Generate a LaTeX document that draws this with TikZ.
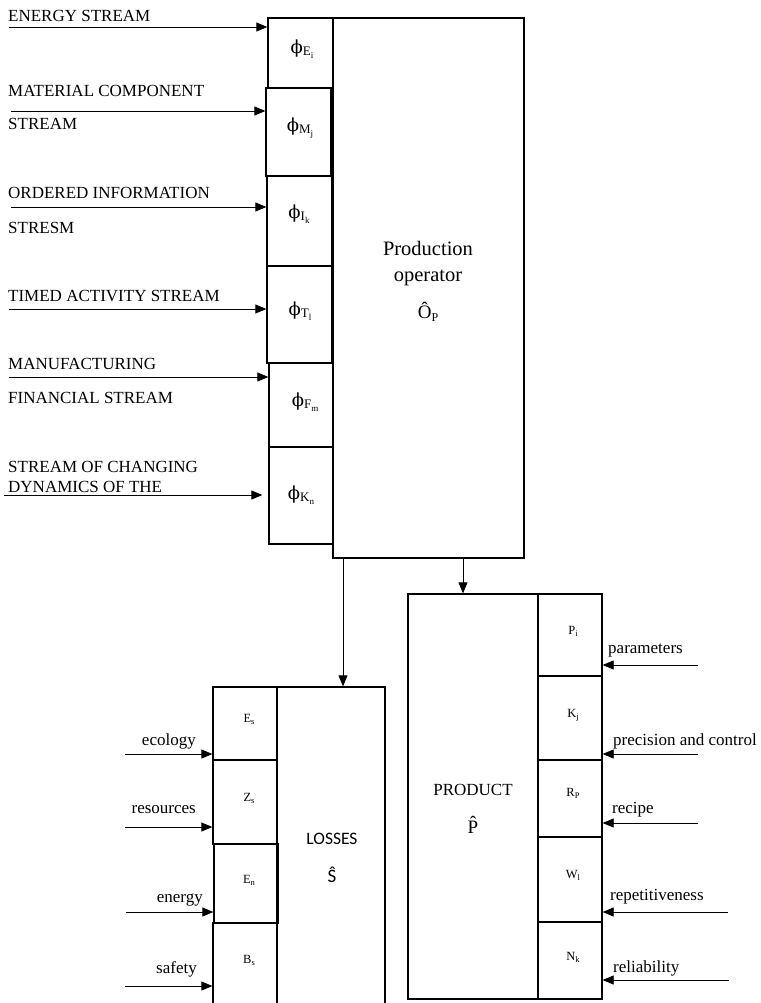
\documentclass[tikz,border=0pt]{standalone}
\usepackage{fontspec}
\setmainfont{Liberation Serif}
\newfontfamily\calib{Carlito}
\newfontfamily\phifont{DejaVu Serif}
\usetikzlibrary{arrows.meta,calc}
\newcommand\sbx[1]{\raisebox{-0.35ex}{\fontsize{8.5}{10}\selectfont #1}}
\newcommand\phil[2]{{\phifont\fontsize{18}{21}\selectfont ϕ}\raisebox{-0.5ex}{\fontsize{13}{15}\selectfont #1\raisebox{-0.35ex}{\fontsize{9}{10}\selectfont #2}}}
\newcommand\smal[2]{{\fontsize{12.5}{14}\selectfont #1\sbx{#2}}}
\begin{document}
\begin{tikzpicture}[x=1pt,y=-1pt,
  box/.style={draw,line width=1.3pt,inner sep=0pt,minimum width=#1},
  box/.default=65pt,
  arr/.style={line width=0.8pt,-{Triangle[length=11pt,width=9pt]}},
  lab/.style={inner sep=0pt,anchor=base west,font=\fontsize{17}{20}\selectfont},
  labr/.style={inner sep=0pt,anchor=base east,font=\fontsize{17}{20}\selectfont},
  ctr/.style={inner sep=0pt,anchor=base,font=\fontsize{17}{20}\selectfont},
  tiny/.style={inner sep=0pt,anchor=center}]
\useasboundingbox (0,0) rectangle (760,1003);
% production operator
\node[box=191pt,minimum height=540pt] (prod) at (428.5,288) {};
\node[ctr,font=\fontsize{20.5}{24}\selectfont] (prodt1) at (428,255) {Production};
\node[ctr,font=\fontsize{20.5}{24}\selectfont] (prodt2) at (428,281) {operator};
\node[ctr,font=\fontsize{19}{22}\selectfont] (prodt3) at (428,318) {Ô\raisebox{-0.4ex}{\fontsize{12}{14}\selectfont P}};
% phi boxes
\node[box,minimum height=70pt] (pE) at (300.5,53) {};
\node[box,minimum height=88pt] (pM) at (298.5,132) {};
\node[box,minimum height=90pt] (pI) at (299.5,221) {};
\node[box,minimum height=97pt] (pT) at (299.5,314.5) {};
\node[box=64pt,minimum height=84pt] (pF) at (301,405) {};
\node[box=64pt,minimum height=97pt] (pK) at (301,495.5) {};
\node[tiny] (lE) at (302,49) {\phil{E}{i}};
\node[tiny] (lM) at (300,128) {\phil{M}{j}};
\node[tiny] (lI) at (299,214) {\phil{I}{k}};
\node[tiny] (lT) at (300,311) {\phil{T}{l}};
\node[tiny] (lF) at (305,402) {\phil{F}{m}};
\node[tiny] (lK) at (301,495) {\phil{K}{n}};
% input labels
\node[lab] (tE) at (8,22) {ENERGY STREAM};
\node[lab] (tM1) at (8,97) {MATERIAL COMPONENT};
\node[lab] (tM2) at (8,130) {STREAM};
\node[lab] (tI1) at (8,198) {ORDERED INFORMATION};
\node[lab] (tI2) at (8,233) {STRESM};
\node[lab] (tT) at (8,301) {TIMED ACTIVITY STREAM};
\node[lab] (tF1) at (8,369) {MANUFACTURING};
\node[lab] (tF2) at (8,403) {FINANCIAL STREAM};
\node[lab] (tK1) at (8,472) {STREAM OF CHANGING};
\node[lab] (tK2) at (8,492) {DYNAMICS OF THE};
% input arrows
\coordinate (aE) at (9,27);
\coordinate (aM) at (11,111);
\coordinate (aI) at (11,207);
\coordinate (aT) at (9,309);
\coordinate (aF) at (9,377);
\coordinate (aK) at (4,495);
\draw[arr] (aE) -- (aE -| pE.west);
\draw[arr] (aM) -- (aM -| pM.west);
\draw[arr] (aI) -- (aI -| pI.west);
\draw[arr] (aT) -- (aT -| pT.west);
\draw[arr] (aF) -- (aF -| pF.west);
\draw[arr] (aK) -- ([xshift=-6pt]aK -| pK.west);
% losses
\node[box=108pt,minimum height=321pt] (loss) at (331,847.5) {};
\node[box=64pt,minimum height=73pt] (bEs) at (245,723.5) {};
\node[box=64pt,minimum height=84pt] (bZs) at (245,802) {};
\node[box=64pt,minimum height=79pt] (bEn) at (246,883.5) {};
\node[box=64pt,minimum height=85pt] (bBs) at (245,965.5) {};
\node[tiny] (lEs) at (249,719) {\smal{E}{s}};
\node[tiny] (lZs) at (249,798) {\smal{Z}{s}};
\node[tiny] (lEn) at (249,880) {\smal{E}{n}};
\node[tiny] (lBs) at (249,960) {\smal{B}{s}};
\node[ctr,font=\calib\fontsize{17.5}{20}\selectfont] (losst1) at (332,844) {LOSSES};
\node[ctr,font=\calib\fontsize{19}{22}\selectfont] (losst2) at (332,882) {Ŝ};
\node[labr] (tEco) at (196,745) {ecology};
\node[labr] (tRes) at (196,813) {resources};
\node[labr] (tEne) at (203,902) {energy};
\node[labr] (tSaf) at (197,973) {safety};
\coordinate (aEco) at (125,754);
\coordinate (aRes) at (125,827);
\coordinate (aEne) at (126,912);
\coordinate (aSaf) at (125,986);
\draw[arr] (aEco) -- (aEco -| bEs.west);
\draw[arr] (aRes) -- (aRes -| bZs.west);
\draw[arr] (aEne) -- (aEne -| bEn.west);
\draw[arr] (aSaf) -- (aSaf -| bBs.west);
% product
\node[box=130pt,minimum height=405pt] (prd) at (473,796.5) {};
\node[box=64pt,minimum height=82pt] (bPi) at (570,635) {};
\node[box=64pt,minimum height=84pt] (bKj) at (570,718) {};
\node[box=64pt,minimum height=77pt] (bRp) at (570,798.5) {};
\node[box=64pt,minimum height=85pt] (bWl) at (570,879.5) {};
\node[box=64pt,minimum height=77pt] (bNk) at (570,960.5) {};
\node[tiny] (lPi) at (573,631) {\smal{P}{i}};
\node[tiny] (lKj) at (573,715) {\smal{K}{j}};
\node[tiny] (lRp) at (573,793) {\smal{R}{P}};
\node[tiny] (lWl) at (573,875) {\smal{W}{l}};
\node[tiny] (lNk) at (573,957) {\smal{N}{k}};
\node[ctr] (prdt1) at (473,795) {PRODUCT};
\node[ctr,font=\fontsize{19}{22}\selectfont] (prdt2) at (473,833) {\^{P}};
\node[lab] (tPar) at (608,653) {parameters};
\node[lab] (tPre) at (613,745) {precision and control};
\node[lab] (tRec) at (612,813) {recipe};
\node[lab] (tRep) at (610,900) {repetitiveness};
\node[lab] (tRel) at (613,972) {reliability};
\coordinate (aPar) at (698,665);
\coordinate (aPre) at (698,754);
\coordinate (aRec) at (698,823);
\coordinate (aRep) at (728,912);
\coordinate (aRel) at (729,980);
\draw[arr] (aPar) -- (aPar -| bPi.east);
\draw[arr] (aPre) -- (aPre -| bKj.east);
\draw[arr] (aRec) -- (aRec -| bRp.east);
\draw[arr] (aRep) -- (aRep -| bWl.east);
\draw[arr] (aRel) -- (aRel -| bNk.east);
% outputs
\coordinate (oL) at (343,558);
\coordinate (oP) at (463,558);
\draw[arr] (oL |- prod.south) -- (oL |- loss.north);
\draw[arr] (oP |- prod.south) -- (oP |- prd.north);
\end{tikzpicture}
\end{document}
